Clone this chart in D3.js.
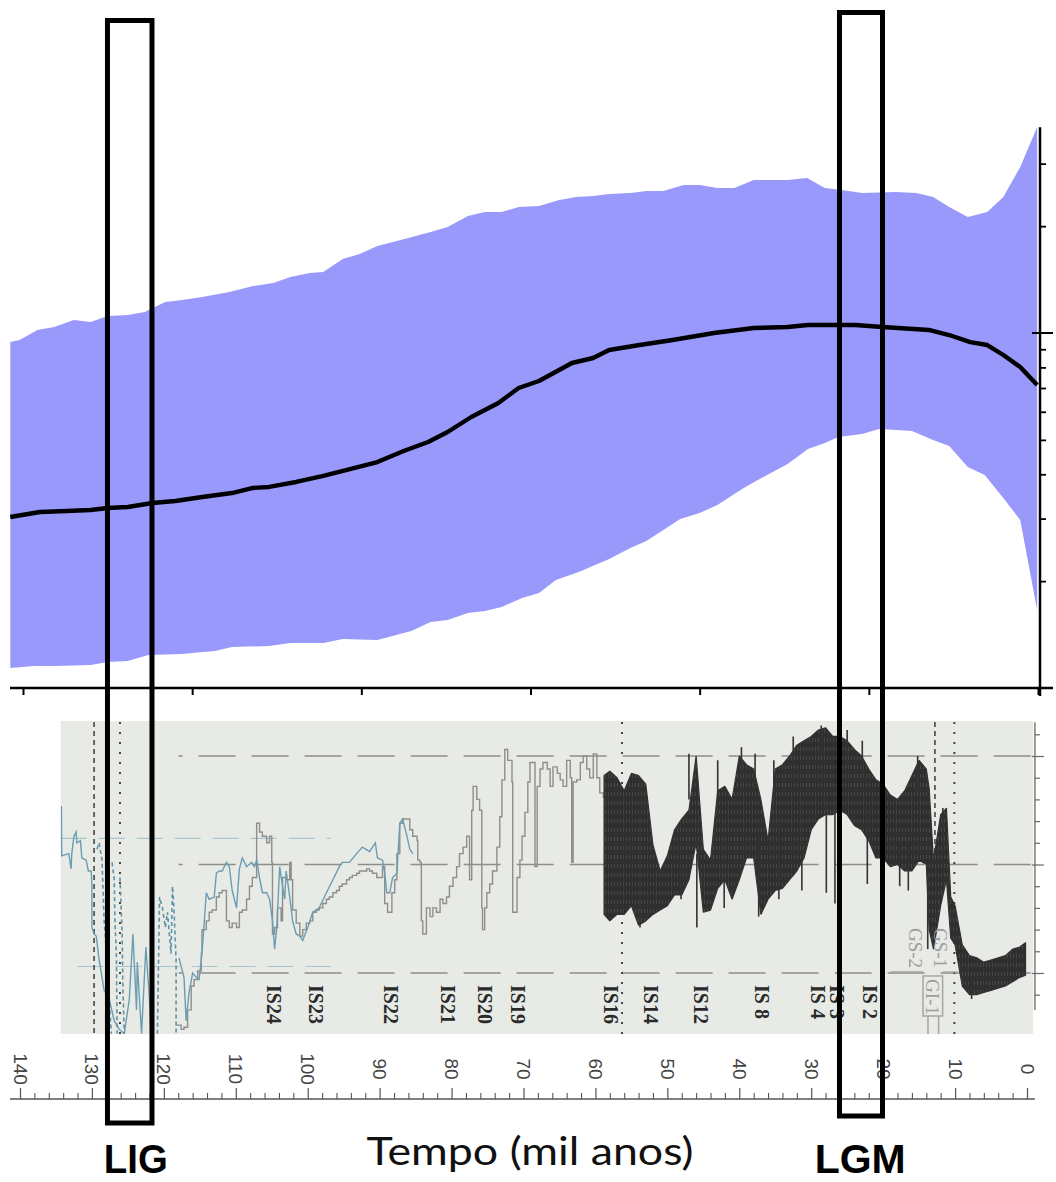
<!DOCTYPE html>
<html><head><meta charset="utf-8">
<script src="https://cdn.jsdelivr.net/npm/d3@7"></script>
<style>body{margin:0;background:#fff}svg{display:block}</style>
</head><body>
<svg id="c" width="1056" height="1182"></svg>
<script>
// ---------------- TOP PANEL DATA (age in ka, value on log axis) ----------------
const upperAge = [121.5,120.4,118.3,116.3,114.0,112.0,110.0,107.6,105.6,103.2,101.2,98.8,95.6,92.8,90.4,88.4,86.1,84.5,82.2,80.2,78.1,75.8,71.8,69.8,67.4,65.4,63.4,61.4,59.0,56.6,54.6,52.6,50.7,48.2,46.3,44.3,41.9,40.0,37.9,35.9,33.6,29.6,27.3,25.2,23.2,20.8,16.8,14.4,12.4,10.5,8.3,6.0,4.1,2.1,0.1];
const upperVal = [0.943,0.956,1.020,1.040,1.088,1.074,1.117,1.124,1.146,1.223,1.239,1.263,1.305,1.356,1.383,1.438,1.476,1.485,1.616,1.669,1.758,1.816,1.925,1.989,2.136,2.192,2.192,2.264,2.279,2.370,2.416,2.432,2.464,2.480,2.512,2.512,2.612,2.612,2.562,2.562,2.698,2.698,2.733,2.562,2.529,2.480,2.496,2.480,2.416,2.264,2.122,2.192,2.416,2.935,3.804];
const lowerAge = [121.5,118.7,116.3,112.0,110.0,107.6,105.2,101.2,98.8,97.3,95.3,90.9,88.4,84.5,82.2,78.1,74.1,71.8,69.8,67.4,65.4,63.4,61.0,59.0,57.0,54.3,50.7,48.2,46.3,42.3,40.0,37.9,34.8,32.7,29.6,27.2,25.2,23.6,20.8,18.8,14.9,12.4,10.5,8.3,6.3,4.1,2.1,0.1];
const lowerVal = [0.1138,0.1153,0.1153,0.1161,0.1184,0.1192,0.1239,0.1247,0.1263,0.1271,0.1305,0.1313,0.1339,0.1339,0.1374,0.1365,0.1447,0.1534,0.1554,0.1627,0.1648,0.1691,0.1793,0.1852,0.2014,0.2122,0.2309,0.2479,0.2595,0.2993,0.3112,0.3278,0.3660,0.3903,0.4276,0.4713,0.4899,0.5093,0.5193,0.5364,0.5295,0.4995,0.4805,0.4194,0.3981,0.3428,0.2973,0.1659];
const meanAge = [121.5,118.0,114.8,112.0,110.0,107.6,104.7,102.0,98.8,95.3,92.8,90.9,87.7,84.5,81.7,78.1,75.0,72.1,69.8,67.0,63.8,61.4,59.0,55.1,52.6,50.7,47.1,43.2,38.3,33.6,29.6,27.2,21.6,18.4,12.9,10.5,8.0,6.0,4.1,2.1,0.1];
const meanVal = [0.3032,0.3132,0.3152,0.3173,0.3214,0.3235,0.3320,0.3363,0.3451,0.3542,0.3660,0.3684,0.3805,0.3956,0.4113,0.4331,0.4652,0.4932,0.5262,0.5799,0.6351,0.7000,0.7326,0.8231,0.8503,0.8957,0.9251,0.9556,1.000,1.033,1.040,1.053,1.053,1.040,1.020,0.987,0.943,0.925,0.867,0.802,0.714];
const topXTicks = [120,100,80,60,40,20,0];
const topYMinor = [0.2,0.3,0.4,0.5,0.6,0.7,0.8,0.9,2,3];
const topYMajor = [0.1,1];
const topYMax = 3.8;

// ---------------- BOTTOM PANEL DATA (age in ka, d18O permil) ----------------
const greyAge = [118.3,117.6,117.2,116.7,116.2,115.8,115.3,114.8,114.7,114.1,113.7,113.3,112.7,112.3,111.9,111.3,110.9,110.5,109.9,109.5,109.1,108.5,108.1,107.7,107.1,106.7,106.3,105.7,105.3,105.0,104.9,104.6,104.2,103.7,103.5,103.0,102.5,102.3,102.1,101.6,101.1,100.7,100.2,99.7,99.3,98.8,98.4,97.9,97.4,97.0,96.5,96.0,95.6,95.2,94.6,94.2,93.8,93.2,92.8,92.4,91.8,91.4,91.0,90.4,90.0,89.6,89.3,88.9,88.3,87.9,87.6,87.2,86.8,86.2,85.8,85.4,84.8,84.7,84.4,84.2,84.0,83.5,83.0,82.6,82.1,81.6,81.2,80.7,80.3,79.8,79.3,78.9,78.4,77.9,77.5,77.2,77.0,76.5,76.1,75.8,75.7,75.4,75.1,74.7,74.3,73.7,73.3,73.0,72.6,72.2,71.6,71.5,70.9,70.5,70.2,69.8,69.4,69.1,68.7,68.4,68.1,67.7,67.3,66.7,66.3,65.9,65.3,64.9,64.5,64.0,63.5,63.3,63.1,62.6,62.1,61.7,61.2,60.8,60.3,59.8,59.4,58.9,58.5,58.0];
const greyVal = [-32.6,-32.4,-32.5,-33.3,-34.4,-34.7,-35.1,-35.9,-37.0,-37.4,-37.8,-37.9,-38.5,-38.7,-38.8,-37.4,-37.1,-37.3,-37.1,-37.8,-37.9,-38.4,-39.0,-39.4,-41.9,-41.5,-41.3,-41.0,-41.3,-40.1,-36.8,-37.1,-38.0,-37.4,-39.4,-39.3,-40.1,-39.3,-37.9,-37.3,-36.7,-37.0,-37.3,-37.4,-37.8,-37.9,-38.0,-38.2,-38.4,-38.5,-38.7,-38.8,-39.0,-39.1,-39.3,-39.4,-39.5,-39.6,-39.7,-39.7,-39.8,-39.7,-39.6,-39.4,-39.4,-39.9,-38.2,-37.8,-38.7,-39.3,-40.5,-41.9,-42.1,-42.1,-41.6,-41.3,-41.1,-40.2,-40.1,-37.4,-36.8,-38.0,-37.6,-38.0,-37.8,-38.4,-38.2,-38.5,-39.0,-39.4,-39.9,-40.5,-40.8,-41.3,-39.3,-42.5,-43.6,-43.0,-42.5,-38.0,-37.0,-38.0,-38.7,-39.1,-39.7,-40.8,-42.2,-43.9,-45.3,-44.8,-43.8,-37.8,-39.4,-40.2,-41.3,-42.4,-43.8,-44.7,-44.7,-39.9,-43.6,-44.4,-44.7,-44.4,-43.6,-44.5,-44.2,-43.9,-43.6,-44.8,-44.0,-40.1,-43.8,-43.9,-44.7,-45.0,-44.4,-44.0,-45.1,-44.0,-43.3,-43.1,-43.0,-42.7];
const blueAgeA = [134.25,134.2,133.2,132.9,132.8,132.5,132.2,132.1,131.6,131.4,130.8,130.5,130.1,130.0,130.0,129.7,129.4,129.0,128.3,127.6,126.9,126.2,125.5,124.8,124.3,123.8,123.7,123.1,122.5,122.0,121.8];
const blueValA = [-42.7,-40.4,-40.5,-39.8,-40.5,-41.3,-41.5,-41.0,-41.1,-40.3,-40.2,-39.7,-39.7,-39.0,-37.1,-36.8,-36.7,-35.6,-34.2,-33.8,-32.8,-32.4,-32.2,-33.8,-36.8,-33.3,-35.5,-32.2,-36.2,-33.8,-32.2];
const blueAgeB = [117.9,117.2,116.9,116.5,116.0,115.5,115.1,114.7,114.1,113.7,113.0,112.7,112.3,111.9,111.3,110.9,110.5,109.9,109.5,109.1,108.5,107.8,107.4,107.1,106.7,106.3,105.7,105.3,104.9,104.6,104.3,103.9,103.5,103.2,103.0,102.5,102.1,101.6,101.1,100.7,100.0,99.3,98.4,97.4,96.5,95.6,95.2,94.2,93.2,92.4,91.4,90.6,90.3,89.6,89.3,89.0,88.6,88.2,87.6,87.2,86.8,86.2,85.8,85.4];
const blueValB = [-35.7,-34.8,-32.8,-34.1,-35.0,-34.8,-34.7,-35.9,-38.7,-38.4,-38.5,-39.6,-39.7,-39.7,-40.1,-39.9,-38.8,-38.0,-39.8,-40.3,-39.9,-40.1,-39.9,-40.2,-39.4,-38.7,-38.7,-38.4,-37.4,-36.1,-37.1,-39.9,-39.0,-38.4,-39.7,-38.5,-37.4,-36.8,-36.7,-36.5,-37.1,-37.8,-38.0,-38.7,-39.3,-39.9,-40.1,-40.1,-40.5,-40.8,-40.6,-41.0,-40.3,-40.2,-39.6,-38.7,-38.7,-39.4,-39.6,-41.9,-42.1,-41.3,-40.7,-40.5];
const blueDashAge = [129.3,129.0,128.6,128.3,127.9,127.6,127.3,NaN,127.2,126.9,126.8,126.6,126.5,NaN,126.1,125.8,125.7,125.5,NaN,120.9,120.6,120.2,119.8,119.5,119.0,118.8,118.6,118.3,118.3];
const blueDashVal = [-40.7,-41.0,-40.2,-37.4,-35.6,-33.8,-32.2,NaN,-40.1,-39.3,-37.4,-35.9,-32.2,NaN,-39.4,-36.8,-34.4,-32.2,NaN,-32.2,-38.5,-38.0,-37.1,-37.8,-35.9,-39.0,-38.0,-35.6,-32.2];
const blackAge = [58.8,58,57,56,55,54,53,52,51,50,49,48,47,46,45,44,43,42,41,40,39,38,37,36,35,34,33,32,31,30,29,28,27,26,25,24,23,22,21,20,19,18,17,16,15,14,13.6,13,12,11.2,10.6,10,9,8,7,6,5,4,3,2,1,0.2];
const blackHi = [-44.1,-44.3,-44.0,-43.4,-44.2,-44.1,-43.7,-40.9,-39.7,-40.4,-41.6,-42.1,-42.5,-45.0,-40.7,-40.2,-43.4,-43.6,-43.0,-45.0,-44.6,-44.4,-43.0,-41.1,-44.4,-44.6,-45.0,-45.5,-45.7,-45.9,-46.2,-46.3,-45.9,-45.9,-45.7,-45.3,-45.0,-44.4,-43.9,-43.7,-43.2,-43.0,-43.4,-44.1,-44.8,-44.4,-43.5,-40.2,-42.3,-42.6,-38.5,-38.1,-36.3,-35.8,-35.7,-35.5,-35.6,-35.7,-35.8,-36.1,-36.2,-36.4];
const blackLo = [-37.7,-37.4,-37.7,-37.7,-38.1,-37.2,-37.4,-37.7,-37.9,-38.1,-38.6,-38.6,-39.3,-41.0,-37.8,-37.9,-38.9,-39.3,-38.4,-39.3,-40.3,-40.3,-37.7,-38.4,-38.8,-38.9,-39.3,-39.7,-40.3,-41.6,-42.1,-42.3,-42.3,-42.5,-42.3,-41.8,-41.6,-41.1,-40.3,-40.3,-39.9,-40.0,-39.7,-39.7,-40.2,-40.0,-37.0,-36.1,-38.1,-39.3,-36.6,-36.3,-34.4,-34.0,-34.0,-34.1,-34.2,-34.3,-34.4,-34.6,-34.8,-34.9];
// single-sample excursions read outside the dense band
const spikeAge = [53.8,48.1,47.0,45.9,43.0,42.1,39.7,37.8,37.3,35.2,34.5,32.5,31.3,28.6,27.9,26.7,25.0,22.9,22.2,17.7,16.5,15.2,13.8,11.7,7.7];
const spikeTop = [-42.0,-40.0,-45.1,-40.5,-44.8,-42.0,-45.4,-45.1,-41.5,-44.8,-42.0,-45.9,-43.0,-46.4,-43.0,-43.5,-46.2,-45.7,-42.5,-41.0,-41.0,-45.0,-39.5,-42.6,-34.8];
const spikeBot = [-37.1,-38.4,-43.0,-37.1,-42.5,-38.0,-43.5,-43.5,-37.6,-43.0,-38.4,-44.5,-38.8,-45.0,-38.7,-38.2,-44.5,-44.0,-39.1,-39.0,-38.8,-43.5,-36.1,-41.0,-33.8];
const gridVals = [-45,-40,-35];
const blueGridVals = [-41.2,-35.3];
const dashedEventAges = [129.7,12.8];
const dottedEventAges = [126.1,56.3,10.1];
const isLabels = ["IS24","IS23","IS22","IS21","IS20","IS19","IS16","IS14","IS12","IS 8","IS 4","IS 3","IS 2"];
const isAges = [104.7,98.8,88.4,80.5,75.4,70.8,57.8,52.3,45.3,36.8,29.0,26.4,21.8];
const gsLabels = ["GS-2","GS-1"];
const gsAges = [15.44,11.96];
const giLabel = "GI-1";
const giAges = [14.46,11.73];
const bottomTickLabels = [140,130,120,110,100,90,80,70,60,50,40,30,20,10,0];
const rightTicks = [-46,-45,-44,-43,-42,-41,-40,-39,-38,-37,-36,-35,-34];
const rightMajor = [-45,-40,-35];
const boxLabels = ["LIG","LGM"];
const boxAges = [[127.84,121.65],[26.07,20.09]];
const boxLabelAges = [123.9,23.2];
const xTitle = "Tempo (mil anos)";

// ---------------- SCALES ----------------
const svg = d3.select("#c");
const xTop = d3.scaleLinear().domain([120,0]).range([23,1038]);
const yTop = d3.scaleLog().domain([0.1,1]).range([688,333]);
const xBot = d3.scaleLinear().domain([140,0]).range([20,1027]);
const yBot = d3.scaleLinear().domain([-35,-45]).range([973,756]);

const defs = svg.append("defs");
const pat = defs.append("pattern").attr("id","noise").attr("patternUnits","userSpaceOnUse")
  .attr("width",3).attr("height",9);
pat.append("rect").attr("width",3).attr("height",9).attr("fill","#2f2f2f");
pat.append("rect").attr("x",2).attr("width",1).attr("height",4).attr("fill","#464646");

// ---------------- TOP PANEL ----------------
const band = upperAge.map((a,i)=>[a,upperVal[i]]).concat(lowerAge.map((a,i)=>[a,lowerVal[i]]).reverse());
svg.append("path").attr("d", d3.line().x(d=>xTop(d[0])).y(d=>yTop(d[1]))(band)+"Z")
  .attr("fill","#9999fc").attr("stroke","none");
svg.append("path").datum(meanAge.map((a,i)=>[a,meanVal[i]]))
  .attr("d", d3.line().x(d=>xTop(d[0])).y(d=>yTop(d[1])))
  .attr("fill","none").attr("stroke","#000").attr("stroke-width",4.4).attr("stroke-linejoin","round");

const gxt = svg.append("g").attr("transform","translate(0,688)")
  .call(d3.axisBottom(xTop).tickValues(topXTicks).tickSize(7).tickFormat(""));
gxt.select(".domain").remove();
gxt.selectAll(".tick line").attr("stroke","#000").attr("stroke-width",2);
svg.append("line").attr("x1",10).attr("x2",1053).attr("y1",688).attr("y2",688).attr("stroke","#000").attr("stroke-width",2.5);
svg.append("line").attr("x1",1040).attr("x2",1040).attr("y1",yTop(topYMax)).attr("y2",yTop(0.1)+8)
  .attr("stroke","#000").attr("stroke-width",2.5);
const gyt = svg.append("g").attr("transform","translate(1040,0)")
  .call(d3.axisRight(yTop).tickValues(topYMinor).tickSize(6).tickFormat(""));
gyt.select(".domain").remove();
gyt.selectAll(".tick line").attr("stroke","#000").attr("stroke-width",1.8);
svg.selectAll(".majorY").data(topYMajor).enter().append("line")
  .attr("x1",1032).attr("x2",1053).attr("y1",d=>yTop(d)).attr("y2",d=>yTop(d))
  .attr("stroke","#000").attr("stroke-width",2);

// ---------------- BOTTOM PANEL ----------------
const bx0 = xBot(134.35), bx1 = xBot(-0.85);
svg.append("rect").attr("x",bx0).attr("y",721).attr("width",bx1-bx0).attr("height",313).attr("fill","#e8eae5");
svg.append("clipPath").attr("id","pc").append("rect").attr("x",bx0).attr("y",721).attr("width",bx1-bx0).attr("height",313);
const pg = svg.append("g").attr("clip-path","url(#pc)");

pg.selectAll(".grid").data(gridVals).enter().append("line")
  .attr("x1",xBot(117.95)).attr("x2",bx1).attr("y1",d=>yBot(d)).attr("y2",d=>yBot(d))
  .attr("stroke","#8d8d8d").attr("stroke-width",1.3).attr("stroke-dasharray","37,16").attr("stroke-dashoffset",33);
pg.selectAll(".bgrid").data(blueGridVals).enter().append("line")
  .attr("x1",(d,i)=>xBot(i===0?134.35:132.0)).attr("x2",xBot(96.8)).attr("y1",d=>yBot(d)).attr("y2",d=>yBot(d))
  .attr("stroke","#a7c7cf").attr("stroke-width",1.2).attr("stroke-dasharray","26,12");

pg.selectAll(".ev1").data(dashedEventAges).enter().append("line")
  .attr("x1",d=>xBot(d)).attr("x2",d=>xBot(d)).attr("y1",722).attr("y2",(d,i)=>i===0?1034:890)
  .attr("stroke","#444").attr("stroke-width",1.6).attr("stroke-dasharray","5,4");
pg.selectAll(".ev2").data(dottedEventAges).enter().append("line")
  .attr("x1",d=>xBot(d)).attr("x2",d=>xBot(d)).attr("y1",722).attr("y2",1034)
  .attr("stroke","#333").attr("stroke-width",1.8).attr("stroke-dasharray","2,8");

pg.append("path").datum(greyAge.map((a,i)=>[a,greyVal[i]]))
  .attr("d", d3.line().x(d=>xBot(d[0])).y(d=>yBot(d[1])).curve(d3.curveStepAfter))
  .attr("fill","none").attr("stroke","#8e8e8e").attr("stroke-width",1.4);
const bl = d3.line().defined(d=>!isNaN(d[0])).x(d=>xBot(d[0])).y(d=>yBot(d[1]));
pg.append("path").datum(blueAgeA.map((a,i)=>[a,blueValA[i]])).attr("d",bl)
  .attr("fill","none").attr("stroke","#6b9db2").attr("stroke-width",1.4);
pg.append("path").datum(blueAgeB.map((a,i)=>[a,blueValB[i]])).attr("d",bl)
  .attr("fill","none").attr("stroke","#6b9db2").attr("stroke-width",1.4);
pg.append("path").datum(blueDashAge.map((a,i)=>[a,blueDashVal[i]])).attr("d",bl)
  .attr("fill","none").attr("stroke","#5f93a9").attr("stroke-width",1.6).attr("stroke-dasharray","4,3");

pg.append("path").datum(blackAge.map((a,i)=>[a,blackHi[i],blackLo[i]]))
  .attr("d", d3.area().x(d=>xBot(d[0])).y0(d=>yBot(d[2])).y1(d=>yBot(d[1])))
  .attr("fill","url(#noise)").attr("stroke","#333").attr("stroke-width",1.2).attr("stroke-linejoin","bevel");
pg.selectAll(".spk").data(spikeAge).enter().append("line")
  .attr("x1",d=>xBot(d)).attr("x2",d=>xBot(d))
  .attr("y1",(d,i)=>yBot(spikeTop[i])).attr("y2",(d,i)=>yBot(spikeBot[i]))
  .attr("stroke","#333").attr("stroke-width",1.6);

pg.selectAll(".isl").data(isLabels).enter().append("text")
  .attr("transform",(d,i)=>`translate(${xBot(isAges[i])},985) rotate(90)`)
  .attr("dominant-baseline","central")
  .style("font-family","'Liberation Serif','Times New Roman',serif").style("font-weight","bold")
  .style("font-size","20px").attr("fill","#2a2a2a").text(d=>d);
pg.selectAll(".gsl").data(gsLabels).enter().append("text")
  .attr("transform",(d,i)=>`translate(${xBot(gsAges[i])},928) rotate(90)`)
  .attr("dominant-baseline","central")
  .style("font-family","'Liberation Serif','Times New Roman',serif")
  .style("font-size","19px").attr("fill","#9d9d9d").text(d=>d);
const gix0 = xBot(giAges[0]), gix1 = xBot(giAges[1]);
pg.append("line").attr("x1",xBot(19.05)).attr("x2",gix0).attr("y1",972).attr("y2",972).attr("stroke","#a5a5a5").attr("stroke-width",1.3);
pg.append("line").attr("x1",gix1).attr("x2",xBot(9.6)).attr("y1",972).attr("y2",972).attr("stroke","#a5a5a5").attr("stroke-width",1.3);
pg.append("rect").attr("x",gix0).attr("y",976).attr("width",gix1-gix0).attr("height",40)
  .attr("fill","none").attr("stroke","#a5a5a5").attr("stroke-width",1.5);
pg.append("line").attr("x1",gix0+5).attr("x2",gix0+5).attr("y1",1016).attr("y2",1034).attr("stroke","#a5a5a5").attr("stroke-width",1.5);
pg.append("line").attr("x1",gix1-4).attr("x2",gix1-4).attr("y1",1016).attr("y2",1034).attr("stroke","#a5a5a5").attr("stroke-width",1.5);
pg.append("text").attr("transform",`translate(${(gix0+gix1)/2},979) rotate(90)`)
  .attr("dominant-baseline","central")
  .style("font-family","'Liberation Serif','Times New Roman',serif")
  .style("font-size","19px").attr("fill","#9d9d9d").text(giLabel);

const gyb = svg.append("g").attr("transform",`translate(${xBot(-1.1)},0)`)
  .call(d3.axisRight(yBot).tickValues(rightTicks).tickSize(5).tickFormat(""));
gyb.select(".domain").remove();
gyb.selectAll(".tick line").attr("stroke","#666").attr("stroke-width",1.2)
  .attr("x1",d=>rightMajor.includes(d)?-3:0).attr("x2",d=>rightMajor.includes(d)?9:5);
svg.append("line").attr("x1",xBot(-1.1)).attr("x2",xBot(-1.1)).attr("y1",yBot(-46.55)).attr("y2",yBot(-33.3))
  .attr("stroke","#666").attr("stroke-width",1.3);

const axY = 1099;
const minorT = d3.range(0,141,2).filter(v=>v%10!==0);
const gmin = svg.append("g").attr("transform",`translate(0,${axY})`)
  .call(d3.axisTop(xBot).tickValues(minorT).tickSize(6).tickFormat(""));
gmin.select(".domain").remove();
gmin.selectAll(".tick line").attr("stroke","#555").attr("stroke-width",1.1);
const gmaj = svg.append("g").attr("transform",`translate(0,${axY})`)
  .call(d3.axisTop(xBot).tickValues(bottomTickLabels).tickSize(11).tickFormat(""));
gmaj.select(".domain").remove();
gmaj.selectAll(".tick line").attr("stroke","#555").attr("stroke-width",1.2);
svg.append("line").attr("x1",10).attr("x2",xBot(-1.1)).attr("y1",axY).attr("y2",axY).attr("stroke","#555").attr("stroke-width",1.5);
svg.selectAll(".xl").data(bottomTickLabels).enter().append("text")
  .attr("transform",d=>`translate(${xBot(d)},1069) rotate(90)`)
  .attr("text-anchor","middle").attr("dominant-baseline","central")
  .style("font-family","'Liberation Sans',Arial,sans-serif").style("font-size","19px")
  .attr("fill","#444").text(d=>d);

svg.append("text").attr("x",530).attr("y",1165).attr("text-anchor","middle")
  .style("font-family","Lato,'Open Sans',sans-serif").style("font-size","38px")
  .attr("textLength",327).attr("lengthAdjust","spacingAndGlyphs")
  .attr("fill","#111").text(xTitle);

const boxTop = [20.5,12.5], boxBot = [1123,1116];
svg.selectAll(".box").data(boxAges).enter().append("rect")
  .attr("x",d=>xBot(d[0])).attr("width",d=>xBot(d[1])-xBot(d[0]))
  .attr("y",(d,i)=>boxTop[i]).attr("height",(d,i)=>boxBot[i]-boxTop[i])
  .attr("fill","none").attr("stroke","#000").attr("stroke-width",5);
svg.selectAll(".bl").data(boxLabels).enter().append("text")
  .attr("x",(d,i)=>xBot(boxLabelAges[i])).attr("y",1173).attr("text-anchor","middle")
  .style("font-family","'Liberation Sans Narrow','Arial Narrow','Liberation Sans',sans-serif")
  .style("font-weight","bold").style("font-size","41px")
  .attr("textLength",(d,i)=>i===0?64:91).attr("lengthAdjust","spacingAndGlyphs")
  .attr("fill","#000").text(d=>d);
</script>
</body></html>
